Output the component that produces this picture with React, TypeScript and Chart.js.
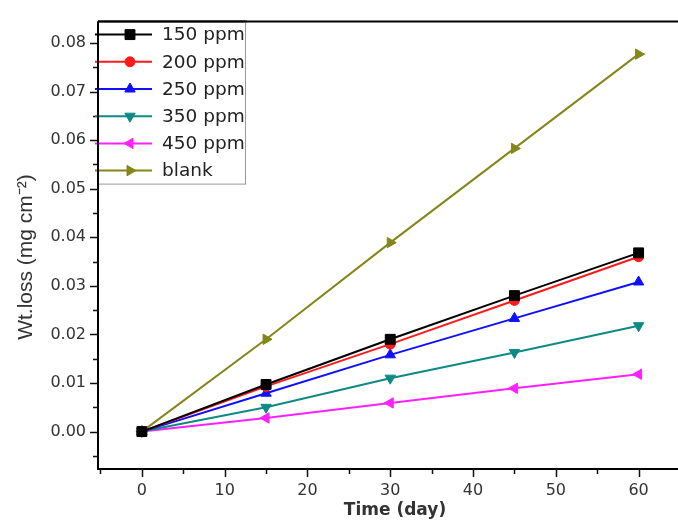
import React, { useEffect, useRef } from "react";
import { Chart, registerables } from "chart.js";
import { drawPoint } from "chart.js/helpers";

Chart.register(...registerables);

// ---- data ----
const days = [0, 15, 30, 45, 60];
const ppm150 = [0, 0.0097, 0.019, 0.028, 0.0368];
const ppm200 = [0, 0.0093, 0.018, 0.027, 0.036];
const ppm250 = [0, 0.0079, 0.0158, 0.0233, 0.0308];
const ppm350 = [0, 0.005, 0.011, 0.0163, 0.0218];
const ppm450 = [0, 0.0028, 0.0059, 0.0089, 0.0118];
const blank = [0, 0.019, 0.0389, 0.0583, 0.0777];

const seriesNames = ["150 ppm", "200 ppm", "250 ppm", "350 ppm", "450 ppm", "blank"];
const seriesValues = [ppm150, ppm200, ppm250, ppm350, ppm450, blank];
const seriesColors = ["#000000", "#ff1a1a", "#1010ff", "#0e8a85", "#ff20ff", "#84861a"];
const seriesStyles = ["rect", "circle", "triangle", "triangle", "triangle", "triangle"];
const seriesRotation = [0, 0, 0, 180, 270, 90];
const seriesRadius = [7, 5, 6, 6, 6, 6];

const xMajorTicks = [0, 10, 20, 30, 40, 50, 60];
const xMinorTicks = [-5, 5, 15, 25, 35, 45, 55, 65];
const yMajorTicks = [0, 0.01, 0.02, 0.03, 0.04, 0.05, 0.06, 0.07, 0.08];
const yMinorTicks = [-0.005, 0.005, 0.015, 0.025, 0.035, 0.045, 0.055, 0.065, 0.075];

const xTitle = "Time (day)";
const yTitle = "Wt.loss (mg cm\u207B\u00B2)";

const framePlugin = {
  id: "frame",
  afterDraw(chart: any) {
    const { ctx, chartArea: a, scales } = chart;
    const xs = scales.x;
    const ys = scales.y;
    ctx.save();
    // axis frame
    ctx.strokeStyle = "#000";
    ctx.lineWidth = 2;
    ctx.beginPath();
    ctx.moveTo(a.left, a.top);
    ctx.lineTo(a.right, a.top);
    ctx.moveTo(a.left, a.top);
    ctx.lineTo(a.left, a.bottom);
    ctx.lineTo(a.right, a.bottom);
    ctx.stroke();
    // ticks
    ctx.lineWidth = 1.5;
    ctx.strokeStyle = "#111";
    ctx.beginPath();
    xMajorTicks.forEach((v) => {
      const p = Math.round(xs.getPixelForValue(v)) + 0.5;
      ctx.moveTo(p, a.bottom);
      ctx.lineTo(p, a.bottom + 8);
    });
    xMinorTicks.forEach((v) => {
      const p = Math.round(xs.getPixelForValue(v)) + 0.5;
      ctx.moveTo(p, a.bottom);
      ctx.lineTo(p, a.bottom + 5);
    });
    yMajorTicks.forEach((v) => {
      const p = Math.round(ys.getPixelForValue(v)) + 0.5;
      ctx.moveTo(a.left - 8, p);
      ctx.lineTo(a.left, p);
    });
    yMinorTicks.forEach((v) => {
      const p = Math.round(ys.getPixelForValue(v)) + 0.5;
      ctx.moveTo(a.left - 5, p);
      ctx.lineTo(a.left, p);
    });
    ctx.stroke();

    // axis titles
    ctx.fillStyle = "#333";
    ctx.textAlign = "center";
    ctx.textBaseline = "middle";
    ctx.font = "bold 17px 'DejaVu Sans'";
    ctx.fillText(xTitle, 395, 511);
    ctx.save();
    ctx.translate(26, 257);
    ctx.rotate(-Math.PI / 2);
    ctx.font = "21px 'Liberation Sans'";
    ctx.fillText(yTitle, 0, 0);
    ctx.restore();

    // legend
    const lx = a.left;
    const ly = a.top;
    const lw = 147;
    const lh = 162;
    ctx.fillStyle = "#fff";
    ctx.fillRect(lx + 1, ly + 1, lw - 1, lh - 1);
    ctx.strokeStyle = "#9a9a9a";
    ctx.lineWidth = 1;
    ctx.strokeRect(lx + 0.5, ly + 0.5, lw, lh);
    ctx.textAlign = "left";
    ctx.font = "18.5px 'DejaVu Sans'";
    seriesNames.forEach((name, i) => {
      const yy = ly + 13 + i * 27.2;
      const col = seriesColors[i];
      ctx.strokeStyle = col;
      ctx.lineWidth = 2;
      ctx.beginPath();
      ctx.moveTo(lx - 3, yy);
      ctx.lineTo(lx + 54, yy);
      ctx.stroke();
      ctx.fillStyle = col;
      ctx.lineWidth = 1;
      drawPoint(
        ctx,
        {
          pointStyle: seriesStyles[i],
          rotation: seriesRotation[i],
          radius: seriesRadius[i],
          borderWidth: 1,
        } as any,
        lx + 32,
        yy
      );
      ctx.fillStyle = "#222";
      ctx.fillText(name, lx + 64, yy + 1);
    });
    // redraw left axis over legend
    ctx.strokeStyle = "#000";
    ctx.lineWidth = 2;
    ctx.beginPath();
    ctx.moveTo(a.left, a.top);
    ctx.lineTo(a.left, a.top + lh + 2);
    ctx.moveTo(a.left, a.top);
    ctx.lineTo(a.left + lw + 2, a.top);
    ctx.stroke();
    ctx.restore();
  },
};

export default function App() {
  const ref = useRef<HTMLCanvasElement | null>(null);

  useEffect(() => {
    if (!ref.current) return;
    const datasets = seriesNames.map((name, i) => ({
      label: name,
      data: days.map((d, j) => ({ x: d, y: seriesValues[i][j] })),
      borderColor: seriesColors[i],
      backgroundColor: seriesColors[i],
      borderWidth: 2,
      pointStyle: seriesStyles[i],
      rotation: seriesRotation[i],
      pointRadius: seriesRadius[i],
      pointBorderWidth: 1,
      pointBackgroundColor: seriesColors[i],
      pointBorderColor: seriesColors[i],
      tension: 0,
      fill: false,
    }));
    const chart = new Chart(ref.current, {
      type: "line",
      data: { datasets },
      plugins: [framePlugin],
      options: {
        animation: false,
        responsive: false,
        devicePixelRatio: 1,
        layout: { padding: { left: 8, top: 14, right: 4, bottom: 0 } },
        plugins: { legend: { display: false }, tooltip: { enabled: false } },
        scales: {
          x: {
            type: "linear",
            min: -5.3,
            max: 65,
            grid: { display: false, drawTicks: false },
            border: { display: false },
            afterBuildTicks: (scale: any) => {
              scale.ticks = xMajorTicks.map((v) => ({ value: v }));
            },
            afterFit: (scale: any) => {
              scale.height = 52;
            },
            ticks: {
              padding: 12,
              color: "#333",
              font: { family: "'DejaVu Sans'", size: 16 },
              maxRotation: 0,
              callback: (v: any) => String(v),
            },
          },
          y: {
            type: "linear",
            min: -0.0077,
            max: 0.0844,
            grid: { display: false, drawTicks: false },
            border: { display: false },
            afterBuildTicks: (scale: any) => {
              scale.ticks = yMajorTicks.map((v) => ({ value: v }));
            },
            afterFit: (scale: any) => {
              scale.width = 90;
            },
            ticks: {
              padding: 12,
              color: "#333",
              font: { family: "'DejaVu Sans'", size: 16 },
              callback: (v: any) => Number(v).toFixed(2),
            },
          },
        },
      } as any,
    });
    return () => chart.destroy();
  }, []);

  return (
    <div
      style={{
        position: "fixed",
        left: 0,
        top: 0,
        width: 678,
        height: 521,
        overflow: "hidden",
        background: "#fff",
      }}
    >
      <canvas ref={ref} width={688} height={521} style={{ display: "block" }} />
    </div>
  );
}
